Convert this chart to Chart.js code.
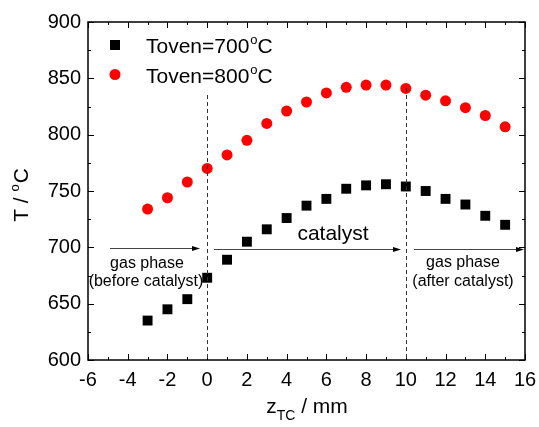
<!DOCTYPE html>
<html>
<head>
<meta charset="utf-8">
<script src="https://cdn.jsdelivr.net/npm/chart.js@4"></script>
<style>
  html, body { margin: 0; padding: 0; background: #fff; }
  #wrap { width: 539px; height: 427px; }
</style>
</head>
<body>
<div id="wrap"><canvas id="c" width="539" height="427"></canvas></div>
<script>
// position along thermocouple (mm)
var zPos = [-3, -2, -1, 0, 1, 2, 3, 4, 5, 6, 7, 8, 9, 10, 11, 12, 13, 14, 15];
// measured temperatures
var t700 = [635, 645, 654, 673, 689, 705, 716, 726, 737, 743, 752, 755, 756, 754, 750, 743, 738, 728, 720];
var t800 = [734, 744, 758, 770, 782, 795, 810, 821, 829, 837, 842, 844, 844, 841, 835, 830, 824, 817, 807];
var xTicks = [-6, -4, -2, 0, 2, 4, 6, 8, 10, 12, 14, 16];
var yTicks = [600, 650, 700, 750, 800, 850, 900];
var legendLabels = ['Toven=700', 'Toven=800'];

var FONT = 'Liberation Sans, Arial, sans-serif';

function pts(ys) {
  return zPos.map(function (x, i) { return { x: x, y: ys[i] }; });
}

// text followed by superscript "o" and "C"
function degText(ctx, txt, x, y, size) {
  ctx.font = size + 'px ' + FONT;
  ctx.textAlign = 'left';
  ctx.textBaseline = 'alphabetic';
  ctx.fillText(txt, x, y);
  var w = ctx.measureText(txt).width;
  ctx.font = Math.round(size * 0.6) + 'px ' + FONT;
  ctx.fillText('o', x + w + 1, y - size * 0.42);
  var w2 = ctx.measureText('o').width;
  ctx.font = size + 'px ' + FONT;
  ctx.fillText('C', x + w + w2 + 1, y);
}

function arrow(ctx, x1, x2, y) {
  ctx.beginPath();
  ctx.moveTo(x1, y);
  ctx.lineTo(x2 - 6, y);
  ctx.stroke();
  ctx.beginPath();
  ctx.moveTo(x2, y);
  ctx.lineTo(x2 - 8, y - 2.5);
  ctx.lineTo(x2 - 8, y + 2.5);
  ctx.closePath();
  ctx.fill();
}

var decor = {
  id: 'decor',
  afterDraw: function (chart) {
    var ctx = chart.ctx, a = chart.chartArea;
    var xs = chart.scales.x, ys = chart.scales.y;
    ctx.save();
    ctx.strokeStyle = '#000';
    ctx.fillStyle = '#000';

    // frame
    ctx.lineWidth = 1.5;
    ctx.strokeRect(a.left, a.top, a.right - a.left, a.bottom - a.top);

    // ticks inward on all four sides
    ctx.lineWidth = 1;
    var v, px, len;
    for (v = -6; v <= 16; v += 1) {
      px = Math.round(xs.getPixelForValue(v)) + 0.5;
      len = (v % 2 === 0) ? 6 : 3;
      ctx.beginPath();
      ctx.moveTo(px, a.bottom); ctx.lineTo(px, a.bottom - len);
      ctx.moveTo(px, a.top); ctx.lineTo(px, a.top + len);
      ctx.stroke();
    }
    for (v = 600; v <= 900; v += 25) {
      px = Math.round(ys.getPixelForValue(v)) + 0.5;
      len = (v % 50 === 0) ? 6 : 3;
      ctx.beginPath();
      ctx.moveTo(a.left, px); ctx.lineTo(a.left + len, px);
      ctx.moveTo(a.right, px); ctx.lineTo(a.right - len, px);
      ctx.stroke();
    }

    // dashed boundaries of catalyst bed
    ctx.setLineDash([4, 3]);
    ctx.strokeStyle = '#333';
    var x0 = xs.getPixelForValue(0), x10 = xs.getPixelForValue(10);
    ctx.beginPath();
    ctx.moveTo(Math.round(x0) + 0.5, 95); ctx.lineTo(Math.round(x0) + 0.5, a.bottom);
    ctx.moveTo(Math.round(x10) + 0.5, 88); ctx.lineTo(Math.round(x10) + 0.5, a.bottom);
    ctx.stroke();
    ctx.setLineDash([]);

    // arrows
    ctx.strokeStyle = '#444';
    ctx.fillStyle = '#000';
    ctx.lineWidth = 1;
    arrow(ctx, 110, 200, 248.5);
    arrow(ctx, 214, 401, 249.5);
    arrow(ctx, 414, 524, 249.5);

    ctx.fillStyle = '#000';
    ctx.textAlign = 'center';
    ctx.textBaseline = 'alphabetic';
    ctx.font = '16px ' + FONT;
    ctx.fillText('gas phase', 147, 268);
    ctx.fillText('(before catalyst)', 146, 286);
    ctx.fillText('gas phase', 463, 267);
    ctx.fillText('(after catalyst)', 463, 286);
    ctx.font = '21px ' + FONT;
    ctx.fillText('catalyst', 333, 240);

    // legend
    ctx.fillStyle = '#000';
    ctx.fillRect(110, 40, 10, 10);
    ctx.fillStyle = '#ff0000';
    ctx.beginPath();
    ctx.arc(115, 74.5, 5.5, 0, Math.PI * 2);
    ctx.fill();
    ctx.fillStyle = '#000';
    degText(ctx, legendLabels[0], 146, 53, 21);
    degText(ctx, legendLabels[1], 146, 82.5, 21);

    // x axis title
    ctx.textAlign = 'left';
    ctx.textBaseline = 'alphabetic';
    ctx.font = '21px ' + FONT;
    var wz = ctx.measureText('z').width;
    var wm = ctx.measureText(' / mm').width;
    ctx.font = '14px ' + FONT;
    var wt = ctx.measureText('TC').width;
    var tx = 307 - (wz + wt + wm) / 2;
    ctx.font = '21px ' + FONT;
    ctx.fillText('z', tx, 413);
    ctx.font = '14px ' + FONT;
    ctx.fillText('TC', tx + wz, 420);
    ctx.font = '21px ' + FONT;
    ctx.fillText(' / mm', tx + wz + wt, 413);

    // y axis title
    ctx.save();
    ctx.translate(28, 195);
    ctx.rotate(-Math.PI / 2);
    ctx.font = '21px ' + FONT;
    var s1 = 'T / ';
    var ws1 = ctx.measureText(s1).width;
    ctx.font = '13px ' + FONT;
    var wo = ctx.measureText('o').width;
    ctx.font = '21px ' + FONT;
    var wc = ctx.measureText('C').width;
    var start = -(ws1 + wo + wc + 1) / 2;
    ctx.fillText(s1, start, 0);
    ctx.font = '13px ' + FONT;
    ctx.fillText('o', start + ws1, -9);
    ctx.font = '21px ' + FONT;
    ctx.fillText('C', start + ws1 + wo + 1, 0);
    ctx.restore();

    ctx.restore();
  }
};

new Chart(document.getElementById('c'), {
  type: 'scatter',
  data: {
    datasets: [
      {
        label: 'Toven=700°C',
        data: pts(t700),
        pointStyle: 'rect',
        pointRadius: 7,
        backgroundColor: '#000',
        borderColor: '#000',
        borderWidth: 0
      },
      {
        label: 'Toven=800°C',
        data: pts(t800),
        pointStyle: 'circle',
        pointRadius: 5.5,
        backgroundColor: '#ff0000',
        borderColor: '#ff0000',
        borderWidth: 0
      }
    ]
  },
  options: {
    responsive: false,
    animation: false,
    layout: { padding: { top: 22, right: 14, left: 0, bottom: 0 } },
    plugins: { legend: { display: false }, tooltip: { enabled: false } },
    scales: {
      x: {
        type: 'linear',
        min: -6, max: 16,
        afterBuildTicks: function (s) { s.ticks = xTicks.map(function (v) { return { value: v }; }); },
        afterFit: function (s) { s.height = 67; s.paddingLeft = 0; s.paddingRight = 0; },
        grid: { display: false, drawTicks: false },
        border: { display: false },
        ticks: { color: '#000', font: { size: 20, family: FONT }, padding: 8, maxRotation: 0 }
      },
      y: {
        type: 'linear',
        min: 600, max: 900,
        afterBuildTicks: function (s) { s.ticks = yTicks.map(function (v) { return { value: v }; }); },
        afterFit: function (s) { s.width = 88; s.paddingTop = 0; s.paddingBottom = 0; },
        grid: { display: false, drawTicks: false },
        border: { display: false },
        ticks: { color: '#000', font: { size: 20, family: FONT }, padding: 7 }
      }
    }
  },
  plugins: [decor]
});
</script>
</body>
</html>
